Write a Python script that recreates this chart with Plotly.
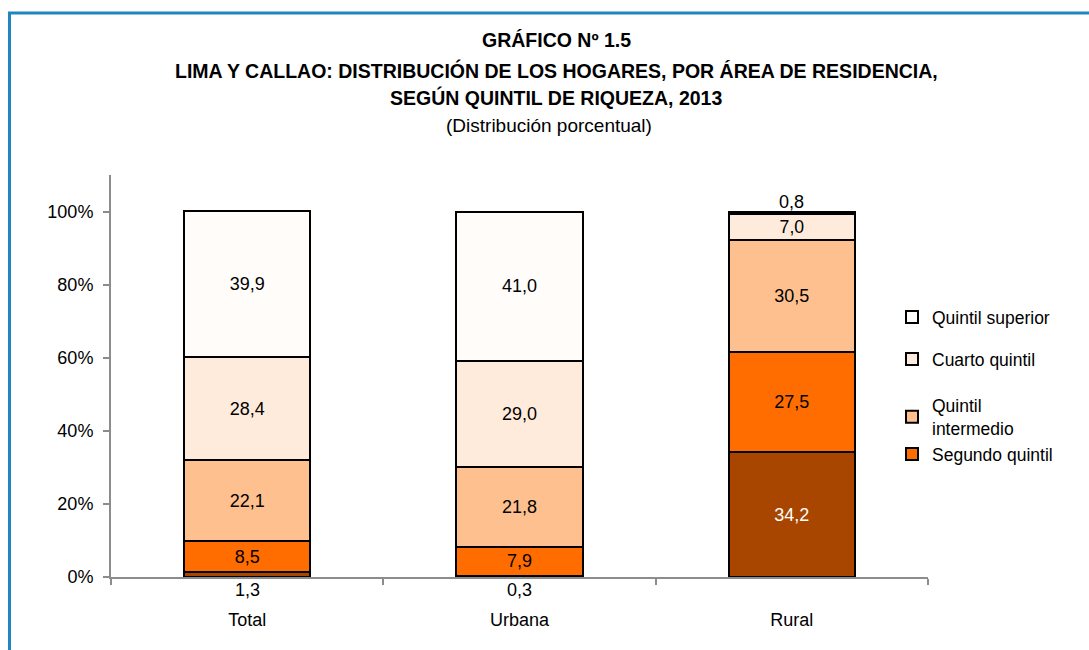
import plotly.graph_objects as go

categories = ["Total", "Urbana", "Rural"]
series_names = ["Quintil inferior", "Segundo quintil", "Quintil intermedio", "Cuarto quintil", "Quintil superior"]
inferior = [1.3, 0.3, 34.2]
segundo = [8.5, 7.9, 27.5]
intermedio = [22.1, 21.8, 30.5]
cuarto = [28.4, 29.0, 7.0]
superior = [39.9, 41.0, 0.8]
y_ticks = [0, 20, 40, 60, 80, 100]
y_tick_labels = ["0%", "20%", "40%", "60%", "80%", "100%"]
colors = ["#A84600", "#FF6D00", "#FFC08F", "#FFEBDB", "#FFFCFA"]
legend_labels = ["", "Segundo quintil", "Quintil<br>intermedio", "Cuarto quintil", "Quintil superior"]

FONT = "Liberation Sans, Arial, sans-serif"
SMALL = 2.0  # segments below this height get their labels outside

series = [inferior, segundo, intermedio, cuarto, superior]
fig = go.Figure()
legend_ids = [None, "legend4", "legend3", "legend2", "legend"]
for i, (name, vals) in enumerate(zip(series_names, series)):
    texts = [("" if v < SMALL else f"{v:.1f}".replace(".", ",")) for v in vals]
    tcolors = ["white" if i == 0 else "black" for _ in vals]
    kw = dict(showlegend=False) if legend_ids[i] is None else dict(legend=legend_ids[i])
    fig.add_trace(go.Bar(
        x=categories, y=vals, name=legend_labels[i] or name,
        marker=dict(color=colors[i], line=dict(color="black", width=2)),
        text=texts, textposition="inside", insidetextanchor="middle",
        textfont=dict(family=FONT, size=18, color=tcolors),
        width=0.463, **kw))

# labels for very small segments
for si, vals in enumerate(series):
    for ci, v in enumerate(vals):
        if v < SMALL:
            base = sum(series[k][ci] for k in range(si))
            top = base + v
            label = f"{v:.1f}".replace(".", ",")
            if si == 0:
                fig.add_annotation(x=categories[ci], y=0, yanchor="top", yshift=-1,
                                   text=label, showarrow=False,
                                   font=dict(family=FONT, size=18, color="black"))
            else:
                fig.add_annotation(x=categories[ci], y=top, yanchor="bottom", yshift=-2,
                                   text=label, showarrow=False,
                                   font=dict(family=FONT, size=18, color="black"))

L, R, T, B = 111, 161, 175, 73
W, H = 1089, 650
pw, ph = W - L - R, H - T - B

def px(x):
    return (x - L) / pw

def py(y):
    return (H - B - y) / ph

# title lines
title_lines = [("<b>GRÁFICO Nº 1.5</b>", 40, 556, 19.5),
               ("<b>LIMA Y CALLAO: DISTRIBUCIÓN DE LOS HOGARES, POR ÁREA DE RESIDENCIA,</b>", 70, 556, 19.5),
               ("<b>SEGÚN QUINTIL DE RIQUEZA, 2013</b>", 98, 556, 19.5),
               ("(Distribución porcentual)", 125, 549, 19)]
for txt, yc, xc, fs in title_lines:
    fig.add_annotation(xref="paper", yref="paper", x=px(xc), y=py(yc), xanchor="center", yanchor="middle",
                       text=txt, showarrow=False, font=dict(family=FONT, size=fs, color="black"))

# blue frame
fig.add_shape(type="rect", xref="paper", yref="paper", x0=px(9.5), x1=px(1200), y0=py(800), y1=py(13),
              line=dict(color="#1F86BF", width=3), fillcolor="rgba(0,0,0,0)", layer="above")

leg_common = dict(font=dict(family=FONT, size=17.5, color="black"), bgcolor="rgba(0,0,0,0)",
                  xanchor="left", yanchor="middle", itemwidth=30, tracegroupgap=0)
leg_pos = {"legend": 317, "legend2": 359, "legend3": 417, "legend4": 454}
layout_legends = {}
for k, yc in leg_pos.items():
    layout_legends[k] = dict(x=px(892), y=py(yc), **leg_common)

fig.update_layout(
    width=W, height=H,
    margin=dict(l=L, r=R, t=T, b=B, autoexpand=False),
    paper_bgcolor="white", plot_bgcolor="white",
    barmode="stack", bargap=0.537,
    font=dict(family=FONT, size=18, color="black"),
    xaxis=dict(range=[-0.5, 2.5], showline=True, linecolor="#8C8C8C", linewidth=2,
               ticks="outside", tickson="boundaries", ticklen=6, tickcolor="#8C8C8C", tickwidth=1.5,
               ticklabelstandoff=25, tickfont=dict(family=FONT, size=18, color="black"),
               showgrid=False, zeroline=False),
    yaxis=dict(range=[0, 110], tickvals=y_ticks, ticktext=y_tick_labels, showline=True, linecolor="#8C8C8C",
               linewidth=2, ticks="outside", ticklen=6, tickcolor="#8C8C8C", tickwidth=1.5,
               tickfont=dict(family=FONT, size=18, color="black"), showgrid=False, zeroline=False,
               ticklabelstandoff=6),
    **layout_legends,
)

fig.write_html("out.html", config={"displayModeBar": False},
               post_script="document.body.style.margin='0';document.body.style.overflow='hidden';")
